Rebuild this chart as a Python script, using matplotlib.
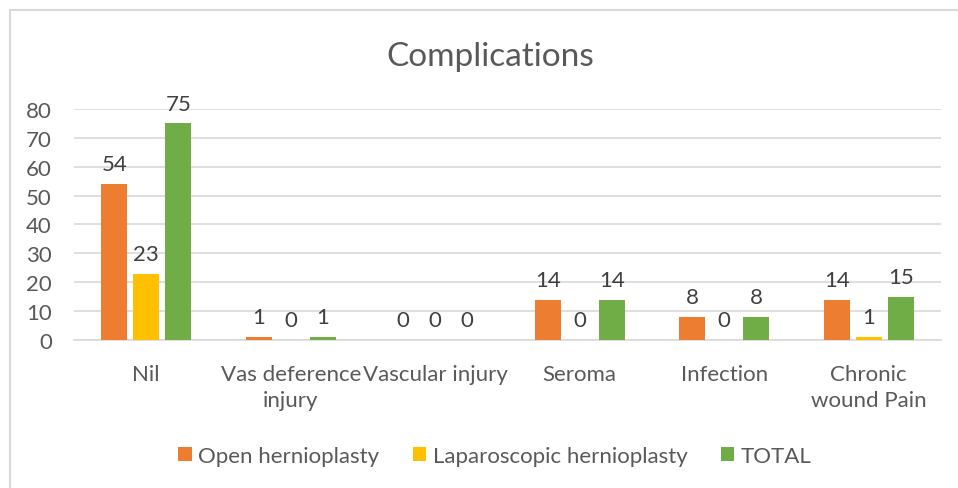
import matplotlib
matplotlib.use("Agg")
import matplotlib.pyplot as plt
import numpy as np
from matplotlib.patches import Rectangle

categories = ["Nil", "Vas deference\ninjury", "Vascular injury", "Seroma", "Infection", "Chronic\nwound Pain"]
open_h = [54, 1, 0, 14, 8, 14]
lap_h = [23, 0, 0, 0, 0, 1]
total = [75, 1, 0, 14, 8, 15]
series_names = ["Open hernioplasty", "Laparoscopic hernioplasty", "TOTAL"]
colors = ["#ED7D31", "#FFC000", "#70AD47"]
yticks = [0, 10, 20, 30, 40, 50, 60, 70, 80]

plt.rcParams['font.family'] = ['Lato', 'DejaVu Sans']
txt = "#595959"
fs = 16

fig = plt.figure(figsize=(9.58, 4.89), dpi=100)
ax = fig.add_axes([74/958, 1-341/489, (941-74)/958, (341-110)/489])

x = np.arange(len(categories))
w = 0.18
off = 0.2215
for i, (vals, c, name) in enumerate(zip([open_h, lap_h, total], colors, series_names)):
    pos = x + (i-1)*off
    ax.bar(pos, vals, width=w, color=c, label=name, zorder=3)
    for p, v in zip(pos, vals):
        ax.annotate(str(v), (p, v), xytext=(0, 7), textcoords="offset points",
                    ha="center", va="bottom", fontsize=fs, color="#404040")

ax.set_xlim(-0.5, len(categories)-0.5)
ax.set_ylim(0, 80)
ax.set_yticks(yticks)
ax.set_yticklabels([str(t) for t in yticks], fontsize=fs, color=txt)
ax.set_xticks(x)
ax.set_xticklabels(categories, fontsize=fs, color=txt, linespacing=1.4)
ax.tick_params(axis='both', length=0)
ax.tick_params(axis='x', pad=17)
ax.tick_params(axis='y', pad=16)
ax.grid(axis='y', color="#D9D9D9", linewidth=1.2, zorder=0)
for s in ["top", "right", "left"]:
    ax.spines[s].set_visible(False)
ax.spines["bottom"].set_color("#D9D9D9")
ax.spines["bottom"].set_linewidth(1.2)

fig.text(490/958, 1-57/489, "Complications", ha="center", va="center", fontsize=24, color=txt)

fig.legend(loc="center", bbox_to_anchor=(495/958, 1-457/489), ncol=3, frameon=False,
           fontsize=fs, handlelength=0.6, handleheight=0.6, handletextpad=0.3,
           columnspacing=1.5, labelcolor=txt)

fig.patches.append(Rectangle((10/958, -0.1), 1.2, 1-11/489+0.1, transform=fig.transFigure,
                             fill=False, edgecolor="#D9D9D9", linewidth=1.5))

fig.savefig("out.png", dpi=100)
